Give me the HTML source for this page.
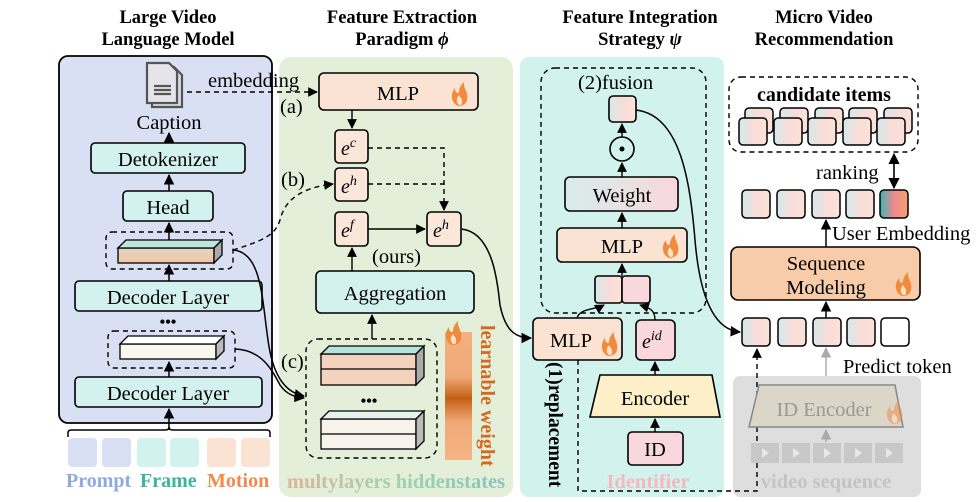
<!DOCTYPE html>
<html><head><meta charset="utf-8"><style>
html,body{margin:0;padding:0;background:#fff;}
svg{display:block;font-family:"Liberation Serif",serif;}
</style></head><body>
<svg width="977" height="502" viewBox="0 0 977 502" xmlns="http://www.w3.org/2000/svg">
<defs>
<marker id="ar" viewBox="0 0 10 10" refX="9" refY="5" markerWidth="7" markerHeight="7" orient="auto-start-reverse"><path d="M0,0 L10,5 L0,10 z" fill="#000"/></marker>
<marker id="arg" viewBox="0 0 10 10" refX="9" refY="5" markerWidth="7" markerHeight="7" orient="auto"><path d="M0,0 L10,5 L0,10 z" fill="#aaa"/></marker>
<linearGradient id="itm" x1="0" x2="1"><stop offset="0" stop-color="#d5e9ea"/><stop offset="0.55" stop-color="#fadcd8"/><stop offset="1" stop-color="#fbe3d8"/></linearGradient>
<linearGradient id="usr" x1="0" x2="1"><stop offset="0" stop-color="#3cb4b0"/><stop offset="0.5" stop-color="#ef8a90"/><stop offset="1" stop-color="#f4a070"/></linearGradient>
<linearGradient id="lw" x1="0" y1="0" x2="0" y2="1"><stop offset="0" stop-color="#f5b080"/><stop offset="0.35" stop-color="#f0a878"/><stop offset="0.52" stop-color="#c46014"/><stop offset="0.7" stop-color="#f0a878"/><stop offset="1" stop-color="#f5b483"/></linearGradient>
<linearGradient id="ml" x1="0" x2="1"><stop offset="0" stop-color="#e0a080"/><stop offset="0.5" stop-color="#8cc8a8"/><stop offset="1" stop-color="#6ab8b0"/></linearGradient>
<linearGradient id="wt" x1="0" x2="1"><stop offset="0" stop-color="#d8ecec"/><stop offset="1" stop-color="#f8d8dc"/></linearGradient>
<linearGradient id="bar1" x1="0" y1="0" x2="0" y2="1"><stop offset="0" stop-color="#e0d8c8"/><stop offset="1" stop-color="#f3c4a0"/></linearGradient>
<g id="fl"><path d="M0,0 C-7,-3 -8,-12 -3,-18 C-3,-13 0,-12 1,-14 C1,-19 4,-22 6,-24 C5,-17 11,-14 9,-6 C8,-2 5,0 0,0z" fill="#f08a3c"/><path d="M1,-1 C-2,-3 -2,-8 1,-11 C2,-8 5,-8 4,-3 C4,-1 3,-1 1,-1z" fill="#fde0c8"/></g>
</defs>

<g font-weight="bold" font-size="18.5" text-anchor="middle">
<text x="168" y="23">Large Video</text><text x="168" y="45">Language Model</text>
<text x="402" y="23">Feature Extraction</text><text x="402" y="45">Paradigm <tspan font-style="italic">ϕ</tspan></text>
<text x="640" y="23">Feature Integration</text><text x="640" y="45">Strategy <tspan font-style="italic">ψ</tspan></text>
<text x="824" y="23">Micro Video</text><text x="824" y="45">Recommendation</text>
</g>

<rect x="59" y="56" width="213" height="367" rx="9" fill="#d9e0f3" stroke="#000" stroke-width="1.8"/>
<rect x="279" y="57" width="234" height="440" rx="12" fill="#e3efd9"/>
<rect x="520" y="57" width="204" height="440" rx="9" fill="#d2f2ee"/>
<rect x="733" y="376" width="188" height="121" rx="7" fill="#dedede"/>

<g stroke="#555" stroke-width="2.2" fill="#e4e4ea">
<path d="M152,67 h22 l8,8 v32 h-30z" fill="#d8d8e0"/>
<path d="M147,63 h22 l8,8 v32 h-30z"/>
<line x1="154" y1="86" x2="171" y2="86"/><line x1="154" y1="90" x2="171" y2="90"/><line x1="154" y1="94" x2="171" y2="94"/>
</g>
<text x="169" y="129" font-size="20.5" text-anchor="middle">Caption</text>
<g stroke="#000" stroke-width="1.6" fill="#d3f1ee">
<rect x="91" y="143" width="154" height="30" rx="4"/>
<rect x="123" y="191" width="90" height="30" rx="4"/>
<rect x="75" y="281" width="187" height="30" rx="4"/>
<rect x="75" y="377" width="187" height="30" rx="4"/>
</g>
<g font-size="20.5" text-anchor="middle">
<text x="168" y="166">Detokenizer</text><text x="168" y="214">Head</text>
<text x="168" y="304">Decoder Layer</text><text x="168" y="400">Decoder Layer</text>
</g>
<g stroke="#000" stroke-width="1.5" marker-end="url(#ar)">
<line x1="169" y1="143" x2="169" y2="133"/>
<line x1="169" y1="191" x2="169" y2="175"/>
<line x1="169" y1="241" x2="169" y2="223"/>
<line x1="169" y1="281" x2="169" y2="265"/>
<line x1="169" y1="377" x2="169" y2="362"/>
<line x1="169" y1="430" x2="169" y2="409"/>
</g>
<rect x="106" y="232" width="127" height="37" rx="6" fill="none" stroke="#000" stroke-width="1.4" stroke-dasharray="5,4"/>
<g stroke="#000" stroke-width="1.3">
<rect x="118" y="248" width="96" height="15" fill="url(#bar1)"/>
<path d="M118,248 l8,-8 h96 l-8,8z" fill="#bfe6dc"/>
<path d="M214,248 l8,-8 v15 l-8,8z" fill="#aaa"/>
</g>
<text x="168" y="327" font-size="16" text-anchor="middle" font-weight="bold">•••</text>
<rect x="108" y="331" width="127" height="37" rx="6" fill="none" stroke="#000" stroke-width="1.4" stroke-dasharray="5,4"/>
<g stroke="#000" stroke-width="1.3">
<rect x="120" y="344" width="96" height="15" fill="#faf6f0"/>
<path d="M120,344 l8,-8 h96 l-8,8z" fill="#fff"/>
<path d="M216,344 l8,-8 v15 l-8,8z" fill="#bbb"/>
</g>
<path d="M68,437 v-4 q0,-3 3,-3 h94 q4,0 4,-3 q0,3 4,3 h94 q3,0 3,3 v4" fill="none" stroke="#000" stroke-width="1.5"/>
<g>
<rect x="68" y="438" width="29" height="29" rx="4" fill="#d9e0f3"/><rect x="102" y="438" width="29" height="29" rx="4" fill="#d9e0f3"/>
<rect x="137" y="438" width="29" height="29" rx="4" fill="#d2f2ee"/><rect x="170" y="438" width="29" height="29" rx="4" fill="#d2f2ee"/>
<rect x="207" y="438" width="29" height="29" rx="4" fill="#fbe3d3"/><rect x="241" y="438" width="29" height="29" rx="4" fill="#fbe3d3"/>
</g>
<g font-size="20" font-weight="bold">
<text x="66" y="487" fill="#8faadc">Prompt</text><text x="140" y="487" fill="#3cb4a0">Frame</text><text x="207" y="487" fill="#f4894b">Motion</text>
</g>

<text x="208" y="87" font-size="20.5">embedding</text>
<line x1="187" y1="92" x2="317" y2="92" stroke="#000" stroke-width="1.4" stroke-dasharray="5,4" marker-end="url(#ar)"/>
<rect x="319" y="73" width="159" height="37" rx="5" fill="#fbe3d3" stroke="#000" stroke-width="1.6"/>
<text x="398" y="100" font-size="20.5" text-anchor="middle">MLP</text>
<use href="#fl" x="458" y="106"/>
<text x="280" y="113" font-size="20.5">(a)</text>
<text x="281" y="186" font-size="20.5">(b)</text>
<text x="281" y="368" font-size="20.5">(c)</text>
<g stroke="#000" stroke-width="1.6" fill="#fbe6da">
<rect x="335" y="130" width="33" height="33" rx="4"/>
<rect x="335" y="168" width="33" height="33" rx="4"/>
<rect x="335" y="212" width="33" height="34" rx="4"/>
<rect x="427" y="212" width="34" height="34" rx="4"/>
</g>
<g font-size="20" font-style="italic">
<text x="341" y="155">e<tspan font-size="14" dy="-8">c</tspan></text>
<text x="341" y="193">e<tspan font-size="14" dy="-8">h</tspan></text>
<text x="341" y="237">e<tspan font-size="14" dy="-8">f</tspan></text>
<text x="433" y="237">e<tspan font-size="14" dy="-8">h</tspan></text>
</g>
<line x1="352" y1="110" x2="352" y2="128" stroke="#000" stroke-width="1.4" marker-end="url(#ar)"/>
<g stroke="#000" stroke-width="1.4" stroke-dasharray="5,4" fill="none">
<path d="M368,148 H444 V210" marker-end="url(#ar)"/>
<path d="M368,184 H444"/>
<path d="M233,250 C265,240 275,235 280,220 C285,200 300,188 333,184" marker-end="url(#ar)"/>
</g>
<line x1="368" y1="229" x2="425" y2="229" stroke="#000" stroke-width="1.4" marker-end="url(#ar)"/>
<text x="372" y="263" font-size="20.5">(ours)</text>
<rect x="316" y="271" width="158" height="42" rx="5" fill="#d3f1ee" stroke="#000" stroke-width="1.6"/>
<text x="395" y="300" font-size="20.5" text-anchor="middle">Aggregation</text>
<line x1="352" y1="271" x2="352" y2="248" stroke="#000" stroke-width="1.4" marker-end="url(#ar)"/>
<line x1="372" y1="339" x2="372" y2="315" stroke="#000" stroke-width="1.4" marker-end="url(#ar)"/>
<rect x="306" y="339" width="131" height="119" rx="12" fill="none" stroke="#000" stroke-width="1.4" stroke-dasharray="5,4"/>
<g stroke="#000" stroke-width="1.3">
<rect x="321" y="354" width="95" height="31" fill="#f3d3bd"/>
<line x1="321" y1="369" x2="416" y2="369"/>
<path d="M321,354 l8,-8 h95 l-8,8z" fill="#b5e2da"/>
<path d="M416,354 l8,-8 v31 l-8,8z" fill="#aaa"/>
<rect x="321" y="419" width="95" height="30" fill="#f8f2ec"/>
<line x1="321" y1="434" x2="416" y2="434"/>
<path d="M321,419 l8,-8 h95 l-8,8z" fill="#e6f2ee"/>
<path d="M416,419 l8,-8 v30 l-8,8z" fill="#bbb"/>
</g>
<text x="369" y="406" font-size="16" text-anchor="middle" font-weight="bold">•••</text>
<rect x="445" y="332" width="27" height="128" fill="url(#lw)"/>
<use href="#fl" x="452" y="345"/>
<text transform="translate(481,325) rotate(90)" font-size="20" font-weight="bold" fill="#d2691e">learnable weight</text>
<text x="287" y="488" font-size="20.5" font-weight="bold" fill="url(#ml)" opacity="0.75">multylayers hiddenstates</text>
<g stroke="#000" stroke-width="1.5" fill="none">
<path d="M233,250 C262,252 262,300 268,340 C272,370 282,392 304,396" marker-end="url(#ar)"/>
<path d="M235,349 C262,350 272,370 280,385 C287,395 295,397 304,398" marker-end="url(#ar)"/>
<path d="M461,229 C495,232 498,290 500,305 C505,330 515,338 531,338" marker-end="url(#ar)"/>
</g>

<rect x="541" y="68" width="165" height="245" rx="14" fill="none" stroke="#000" stroke-width="1.4" stroke-dasharray="5,4"/>
<text x="578" y="89" font-size="20.5">(2)fusion</text>
<rect x="609" y="96" width="27" height="26" rx="4" fill="url(#itm)" stroke="#000" stroke-width="1.6"/>
<circle cx="622" cy="149" r="12" fill="none" stroke="#000" stroke-width="1.6"/>
<circle cx="622" cy="149" r="2.5" fill="#000"/>
<rect x="565" y="177" width="113" height="34" rx="5" fill="url(#wt)" stroke="#000" stroke-width="1.6"/>
<text x="622" y="202" font-size="20.5" text-anchor="middle">Weight</text>
<rect x="557" y="228" width="130" height="34" rx="5" fill="#fbe3d3" stroke="#000" stroke-width="1.6"/>
<text x="622" y="253" font-size="20.5" text-anchor="middle">MLP</text>
<use href="#fl" x="669" y="258"/>
<rect x="595" y="276" width="27" height="27" rx="3" fill="url(#itm)" stroke="#000" stroke-width="1.6"/>
<rect x="622" y="276" width="28" height="27" rx="3" fill="#f8d8dc" stroke="#000" stroke-width="1.6"/>
<g stroke="#000" stroke-width="1.4" marker-end="url(#ar)" fill="none">
<line x1="622" y1="137" x2="622" y2="124"/>
<line x1="622" y1="177" x2="622" y2="163"/>
<line x1="622" y1="228" x2="622" y2="213"/>
<line x1="622" y1="276" x2="622" y2="264"/>
<path d="M577,318 C580,308 595,310 604,305"/>
<path d="M655,320 C655,310 650,308 640,305"/>
<line x1="655" y1="375" x2="655" y2="362"/>
<line x1="655" y1="432" x2="655" y2="419"/>
</g>
<rect x="533" y="318" width="89" height="42" rx="5" fill="#fbe3d3" stroke="#000" stroke-width="1.6"/>
<text x="571" y="347" font-size="20.5" text-anchor="middle">MLP</text>
<use href="#fl" x="608" y="356"/>
<rect x="636" y="320" width="39" height="40" rx="5" fill="#f8d8dc" stroke="#000" stroke-width="1.6"/>
<text x="642" y="348" font-size="20" font-style="italic">e<tspan font-size="14" dy="-8">id</tspan></text>
<path d="M600,375 H712 L720,417 H590z" fill="#fdf0c8" stroke="#000" stroke-width="1.6"/>
<text x="655" y="405" font-size="20.5" text-anchor="middle">Encoder</text>
<rect x="628" y="432" width="55" height="33" rx="4" fill="#f8d8dc" stroke="#000" stroke-width="1.6"/>
<text x="655" y="456" font-size="20.5" text-anchor="middle">ID</text>
<text x="648" y="488" font-size="20.5" font-weight="bold" fill="#f6b8c0" text-anchor="middle">Identifier</text>
<text transform="translate(549,362) rotate(90)" font-size="19.5" font-weight="bold">(1)replacement</text>
<path d="M578,360 V491 H757 V349" fill="none" stroke="#000" stroke-width="1.4" stroke-dasharray="5,4" marker-end="url(#ar)"/>
<path d="M636,110 C680,115 690,180 695,240 C700,300 715,330 740,332" fill="none" stroke="#000" stroke-width="1.5" marker-end="url(#ar)"/>

<rect x="729" y="77" width="189" height="75" rx="12" fill="none" stroke="#000" stroke-width="1.4" stroke-dasharray="5,4"/>
<text x="824" y="101" font-size="20" font-weight="bold" text-anchor="middle">candidate items</text>
<g stroke="#000" stroke-width="1.5" fill="url(#itm)">
<rect x="745" y="108" width="28" height="25" rx="4"/><rect x="780" y="108" width="28" height="25" rx="4"/><rect x="815" y="108" width="28" height="25" rx="4"/><rect x="849" y="108" width="28" height="25" rx="4"/><rect x="884" y="108" width="28" height="25" rx="4"/>
<rect x="739" y="118" width="28" height="27" rx="4"/><rect x="774" y="118" width="28" height="27" rx="4"/><rect x="808" y="118" width="28" height="27" rx="4"/><rect x="843" y="118" width="28" height="27" rx="4"/><rect x="877" y="118" width="28" height="27" rx="4"/>
<rect x="742" y="190" width="28" height="28" rx="4"/><rect x="777" y="190" width="28" height="28" rx="4"/><rect x="812" y="190" width="28" height="28" rx="4"/><rect x="846" y="190" width="28" height="28" rx="4"/>
<rect x="880" y="190" width="28" height="28" rx="4" fill="url(#usr)"/>
<rect x="742" y="318" width="28" height="28" rx="4"/><rect x="778" y="318" width="28" height="28" rx="4"/><rect x="813" y="318" width="28" height="28" rx="4"/><rect x="847" y="318" width="28" height="28" rx="4"/>
<rect x="881" y="318" width="28" height="28" rx="4" fill="#fff"/>
</g>
<text x="816" y="179" font-size="20.5">ranking</text>
<line x1="894" y1="154" x2="894" y2="188" stroke="#000" stroke-width="1.6" marker-end="url(#ar)" marker-start="url(#ar)"/>
<text x="832" y="240" font-size="20.5">User Embedding</text>
<line x1="826" y1="247" x2="826" y2="220" stroke="#000" stroke-width="1.5" marker-end="url(#ar)"/>
<rect x="731" y="247" width="189" height="53" rx="7" fill="#f8cba9" stroke="#000" stroke-width="1.6"/>
<text x="826" y="270" font-size="20.5" text-anchor="middle">Sequence</text>
<text x="826" y="294" font-size="20.5" text-anchor="middle">Modeling</text>
<use href="#fl" x="902" y="296"/>
<line x1="826" y1="318" x2="826" y2="302" stroke="#000" stroke-width="1.5" marker-end="url(#ar)"/>
<text x="843" y="373" font-size="20.5">Predict token</text>
<line x1="826" y1="376" x2="826" y2="348" stroke="#aaa" stroke-width="1.5" marker-end="url(#arg)"/>
<path d="M759,385 H895 L903,427 H749z" fill="#dcd6c8" stroke="#888" stroke-width="1.5"/>
<text x="824" y="416" font-size="20.5" text-anchor="middle" fill="#999">ID Encoder</text>
<g opacity="0.5"><use href="#fl" x="893" y="424"/></g>
<line x1="826" y1="442" x2="826" y2="430" stroke="#aaa" stroke-width="1.5" marker-end="url(#arg)"/>
<g fill="#c8c8c8">
<rect x="751" y="443" width="28" height="20"/><rect x="782" y="443" width="28" height="20"/><rect x="813" y="443" width="28" height="20"/><rect x="844" y="443" width="28" height="20"/><rect x="875" y="443" width="28" height="20"/>
</g>
<g fill="#e8e8e8">
<path d="M762,448 l7,5 l-7,5z"/><path d="M793,448 l7,5 l-7,5z"/><path d="M824,448 l7,5 l-7,5z"/><path d="M855,448 l7,5 l-7,5z"/><path d="M886,448 l7,5 l-7,5z"/>
</g>
<text x="826" y="488" font-size="20.5" font-weight="bold" fill="#c4c4c4" text-anchor="middle">video sequence</text>
</svg>
</body></html>
